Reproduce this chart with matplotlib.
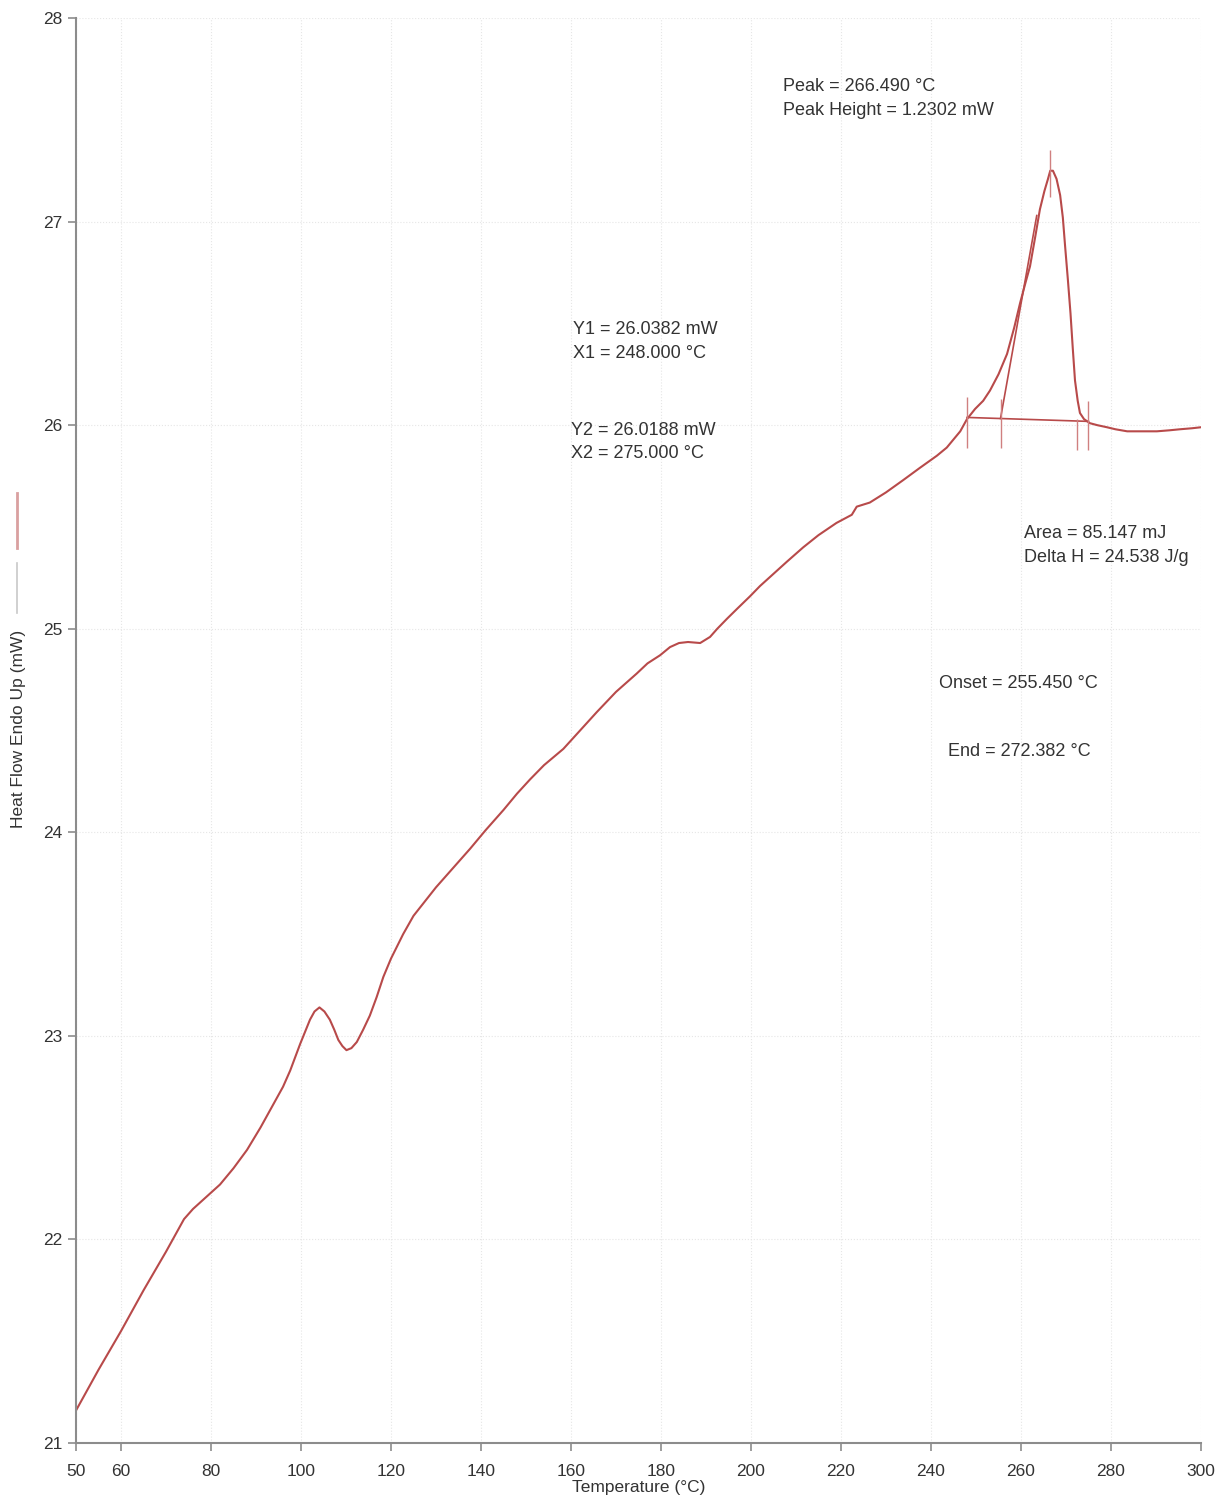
import matplotlib
matplotlib.use("Agg")
import matplotlib.pyplot as plt
from matplotlib.lines import Line2D

plt.rcParams['font.family'] = ['Liberation Sans', 'DejaVu Sans']

# DSC heat flow curve
temp_c = [50, 55, 60, 65, 70, 72, 74, 76, 78, 80, 82, 85, 88, 91, 94, 96, 97.6,
          99.8, 102, 103, 104.1, 105.2, 106.4, 107.4, 108.3, 109.2, 110.1, 111.2,
          112.4, 113.8, 115.3, 116.8, 118.3, 120, 122.7, 125, 130, 134, 137.6, 141,
          145, 148, 150.9, 154, 158.3, 162, 165.7, 170, 174.6, 177, 179.8, 182, 184,
          186, 188.7, 190.9, 192.5, 194.7, 197, 199.8, 202, 204.5, 208, 211.6, 215,
          219, 222.4, 223.5, 226.4, 230, 233.8, 237.5, 241.3, 243.5, 245, 246.5,
          248, 249.8, 251.6, 253.1, 255, 256.9, 258.5, 259.8, 261, 262, 263.2,
          264.2, 265.2, 266, 266.5, 267.1, 267.9, 268.7, 269.3, 269.8, 270.4, 271,
          271.5, 272, 272.6, 273.1, 274, 275.3, 277, 279.1, 281, 283.6, 287, 290.2,
          293, 295.3, 298, 300]
heat_flow = [21.16, 21.36, 21.55, 21.75, 21.94, 22.02, 22.10, 22.15, 22.19, 22.23,
             22.27, 22.35, 22.44, 22.55, 22.67, 22.75, 22.83, 22.96, 23.08, 23.12,
             23.14, 23.12, 23.08, 23.03, 22.98, 22.95, 22.93, 22.94, 22.97, 23.03,
             23.10, 23.19, 23.29, 23.38, 23.50, 23.59, 23.73, 23.83, 23.92, 24.01,
             24.11, 24.19, 24.26, 24.33, 24.41, 24.50, 24.59, 24.69, 24.78, 24.83,
             24.87, 24.91, 24.93, 24.935, 24.93, 24.96, 25.00, 25.05, 25.10, 25.16,
             25.21, 25.26, 25.33, 25.40, 25.46, 25.52, 25.56, 25.60, 25.62, 25.67,
             25.73, 25.79, 25.85, 25.89, 25.93, 25.97, 26.03, 26.08, 26.12, 26.17,
             26.25, 26.35, 26.48, 26.60, 26.70, 26.78, 26.93, 27.06, 27.15, 27.21,
             27.25, 27.25, 27.21, 27.13, 27.02, 26.88, 26.72, 26.55, 26.38, 26.22,
             26.12, 26.06, 26.03, 26.01, 26.00, 25.99, 25.98, 25.97, 25.97, 25.97,
             25.975, 25.98, 25.985, 25.99]

# analysis results
x1, y1 = 248.0, 26.0382
x2, y2 = 275.0, 26.0188
onset_t, end_t, peak_t = 255.450, 272.382, 266.490
tangent_t = [255.45, 263.5]
tangent_hf = [26.033, 27.03]
event_marks = [x1, onset_t, end_t, x2]
mark_lo = [25.89, 25.89, 25.88, 25.88]
mark_hi = [26.14, 26.13, 26.03, 26.12]
peak_lo, peak_hi = 27.12, 27.35

xticks = [50, 60, 80, 100, 120, 140, 160, 180, 200, 220, 240, 260, 280, 300]
yticks = [21, 22, 23, 24, 25, 26, 27, 28]

red = '#b84a4a'
grey = '#8c8c8c'
txt = '#333333'

fig = plt.figure(figsize=(12.26, 15.06), dpi=100)
ax = fig.add_axes([0.062, 0.0418, 0.9176, 0.9462])

ax.plot(temp_c, heat_flow, color=red, lw=1.5)
ax.plot([x1, x2], [y1, y2], color=red, lw=1.2)
ax.plot(tangent_t, tangent_hf, color=red, lw=1.2)
ax.vlines(event_marks, mark_lo, mark_hi, color='#d08080', lw=1.0)
ax.vlines([peak_t], [peak_lo], [peak_hi], color='#d08080', lw=1.0)

ax.set_xlim(50, 300)
ax.set_ylim(21, 28)
ax.set_xticks(xticks)
ax.set_yticks(yticks)
ax.grid(True, color='#e6e6e6', ls=':', lw=0.8)
ax.set_axisbelow(True)

for s in ['top', 'right']:
    ax.spines[s].set_visible(False)
for s in ['left', 'bottom']:
    ax.spines[s].set_color(grey)
    ax.spines[s].set_linewidth(1.5)
ax.tick_params(colors=grey, labelcolor=txt, labelsize=12.5, length=6, width=1.2)
ax.tick_params(axis='x', pad=9)

ax.set_xlabel('Temperature (°C)', fontsize=12.5, color=txt, labelpad=1)
fig.text(0.0147, 0.516, 'Heat Flow Endo Up (mW)', rotation=90, fontsize=12.5,
         color=txt, ha='center', va='center')
fig.add_artist(Line2D([0.0139, 0.0139], [1 - 613 / 1506, 1 - 563 / 1506],
                      color='#c8c8c8', lw=1.2))
fig.add_artist(Line2D([0.0139, 0.0139], [1 - 548 / 1506, 1 - 493 / 1506],
                      color='#d9a0a0', lw=2.0))

kw = dict(fontsize=13, color=txt, ha='left', va='center')
ax.text(207.1, 27.666, 'Peak = 266.490 °C', **kw)
ax.text(207.1, 27.548, 'Peak Height = 1.2302 mW', **kw)
ax.text(160.4, 26.468, 'Y1 = 26.0382 mW', **kw)
ax.text(160.4, 26.350, 'X1 = 248.000 °C', **kw)
ax.text(160.0, 25.976, 'Y2 = 26.0188 mW', **kw)
ax.text(160.0, 25.863, 'X2 = 275.000 °C', **kw)
ax.text(260.7, 25.466, 'Area = 85.147 mJ', **kw)
ax.text(260.7, 25.348, 'Delta H = 24.538 J/g', **kw)
ax.text(241.8, 24.729, 'Onset = 255.450 °C', **kw)
ax.text(243.8, 24.395, 'End = 272.382 °C', **kw)

fig.savefig('out.png', dpi=100)
